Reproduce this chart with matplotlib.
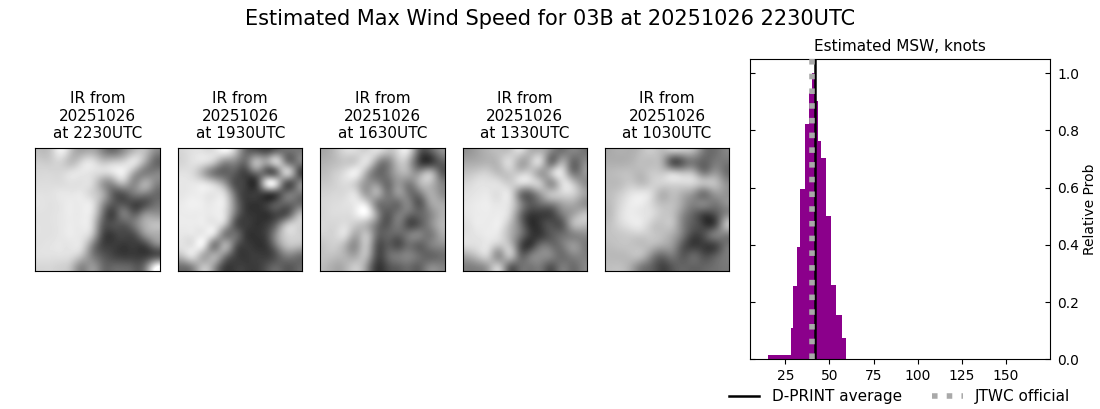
import numpy as np
import matplotlib
matplotlib.use("Agg")
import matplotlib.pyplot as plt

suptitle = "Estimated Max Wind Speed for 03B at 20251026 2230UTC"
panel_titles = ["IR from\n20251026\nat 2230UTC", "IR from\n20251026\nat 1930UTC", "IR from\n20251026\nat 1630UTC",
                "IR from\n20251026\nat 1330UTC", "IR from\n20251026\nat 1030UTC"]

ir_2230 = [[190,200,235,190,170,175,140,120,150,190,190,140],
           [205,205,210,190,215,225,200,205,215,225,170,110],
           [215,215,215,225,230,225,215,225,235,170,130,130],
           [220,220,220,225,225,215,160,150,180,140,170,140],
           [225,225,230,230,230,210,170,100,90,120,130,110],
           [228,225,230,235,235,225,150,90,85,70,80,110],
           [225,225,230,235,235,220,120,70,120,100,140,150],
           [225,225,230,235,235,210,100,80,90,120,170,190],
           [225,225,230,235,230,190,80,60,70,80,140,170],
           [225,228,230,230,220,140,70,60,55,60,70,120],
           [225,225,225,220,190,130,90,70,60,60,60,80],
           [215,215,210,190,140,150,110,100,100,90,110,220]]
ir_1930 = [[215,225,225,225,235,190,110,100,90,120,110,120],
           [215,225,220,190,140,130,110,180,160,200,130,120],
           [225,215,170,120,100,90,70,110,100,120,200,100],
           [230,230,225,200,150,80,60,60,210,200,90,120],
           [230,235,235,230,210,110,60,60,70,80,110,120],
           [235,240,235,235,225,130,60,50,60,90,100,110],
           [235,235,235,235,220,120,60,50,50,70,90,170],
           [235,235,235,230,190,90,60,50,60,110,190,210],
           [230,230,235,210,130,110,60,50,70,150,210,210],
           [225,230,225,130,170,100,60,50,60,130,190,190],
           [200,220,170,170,130,70,55,60,60,90,130,120],
           [120,150,190,150,70,60,60,60,80,100,90,100]]
ir_1630 = [[170,190,215,215,215,215,190,215,215,100,80,130],
           [180,190,200,210,220,150,130,190,175,80,60,90],
           [190,205,225,235,170,110,120,170,170,150,180,110],
           [200,210,220,200,150,140,110,150,130,170,190,140],
           [210,215,220,215,160,170,120,150,120,120,170,150],
           [215,220,225,235,215,130,110,110,130,90,150,170],
           [215,220,220,235,240,150,90,120,110,100,130,170],
           [215,215,220,200,180,120,90,120,80,90,130,175],
           [210,215,215,170,190,110,100,100,120,130,120,160],
           [200,205,175,150,190,90,90,80,110,100,120,140],
           [195,190,175,170,180,80,100,120,130,110,100,110],
           [185,170,180,200,150,60,80,100,110,100,130,130]]
ir_1330 = [[150,165,180,190,200,210,180,180,130,120,130,120],
           [170,175,180,190,215,170,190,200,120,170,110,130],
           [195,205,205,190,200,200,200,160,190,220,130,140],
           [215,225,225,220,205,215,210,190,150,215,200,150],
           [225,230,230,225,220,130,110,160,190,210,210,170],
           [230,235,235,230,220,140,90,110,130,160,170,150],
           [230,235,235,235,210,120,60,60,70,120,160,190],
           [225,235,235,235,190,120,50,60,80,90,170,190],
           [225,230,235,225,180,120,60,60,90,110,130,140],
           [220,225,225,200,190,90,60,110,110,120,150,130],
           [175,200,200,150,190,110,120,140,130,110,130,130],
           [130,140,170,190,110,110,120,120,90,120,110,130]]
ir_1030 = [[170,175,175,190,200,185,180,180,170,120,110,130],
           [175,175,180,190,190,170,90,100,120,100,120,120],
           [185,190,190,185,200,200,200,190,180,130,150,120],
           [185,190,200,190,205,210,215,215,210,190,190,150],
           [190,205,225,230,215,180,190,175,150,120,150,150],
           [190,215,235,235,215,190,190,160,130,130,120,140],
           [190,220,235,230,220,200,190,140,100,70,80,130],
           [195,215,230,230,205,195,190,130,90,60,70,170],
           [195,200,205,205,200,190,170,120,70,80,120,130],
           [190,195,195,190,185,170,150,90,60,60,70,110],
           [185,185,190,185,140,110,120,90,100,80,90,120],
           [190,190,170,130,100,70,90,100,100,100,110,120]]
ir_images = [ir_2230, ir_1930, ir_1630, ir_1330, ir_1030]

bin_edges = [15.1, 28.1, 29.2, 31.5, 33.2, 36.0, 38.3, 40.0, 42.0, 43.4, 45.0, 47.9, 50.7, 54.0, 56.9, 59.2]
bin_probs = [0.015, 0.11, 0.256, 0.393, 0.595, 0.823, 0.93, 1.0, 0.903, 0.763, 0.704, 0.50, 0.26, 0.155, 0.075]
dprint_avg = 42.0
jtwc_official = 40
x_ticks = [25, 50, 75, 100, 125, 150]
y_ticks = [0.0, 0.2, 0.4, 0.6, 0.8, 1.0]

W, H = 1100, 409
fig = plt.figure(figsize=(W / 100, H / 100), dpi=100)
fig.text(550.5 / W, 1 - 19 / H, suptitle, ha="center", va="center", fontsize=15)

panel_lefts = [35.2, 178.0, 320.2, 462.6, 604.8]
for left, img, title in zip(panel_lefts, ir_images, panel_titles):
    ax = fig.add_axes([left / W, 1 - 271.2 / H, 124.5 / W, 123.7 / H])
    ax.imshow(np.array(img), cmap="gray", vmin=0, vmax=255, interpolation="lanczos", aspect="auto")
    ax.set_xticks([])
    ax.set_yticks([])
    ax.set_title(title, fontsize=11, pad=6.7)

ax = fig.add_axes([750.0 / W, 1 - 359.2 / H, 300.0 / W, 300.2 / H])
edges = np.array(bin_edges)
ax.bar(edges[:-1], bin_probs, width=np.diff(edges), align="edge", color="darkmagenta", linewidth=0)
ax.axvline(dprint_avg, color="black", lw=1.8, label="D-PRINT average", zorder=3)
ax.axvline(jtwc_official, color="darkgray", lw=4, ls=":", label="JTWC official", zorder=4)
ax.set_xlim(5, 175)
ax.set_ylim(0, 1.05)
ax.set_xticks(x_ticks)
ax.set_yticks(y_ticks)
ax.tick_params(axis="y", left=True, right=True, labelleft=False, labelright=True, direction="in", pad=5)
ax.yaxis.set_label_position("right")
ax.set_ylabel("Relative Prob", fontsize=10, labelpad=3)
ax.set_title("Estimated MSW, knots", fontsize=11, pad=6)
fig.legend(*ax.get_legend_handles_labels(), loc="center", bbox_to_anchor=(899.5 / W, 1 - 396.5 / H),
           ncol=2, frameon=False, fontsize=11, borderpad=0, columnspacing=2.0)
fig.savefig("out.png", dpi=100)
